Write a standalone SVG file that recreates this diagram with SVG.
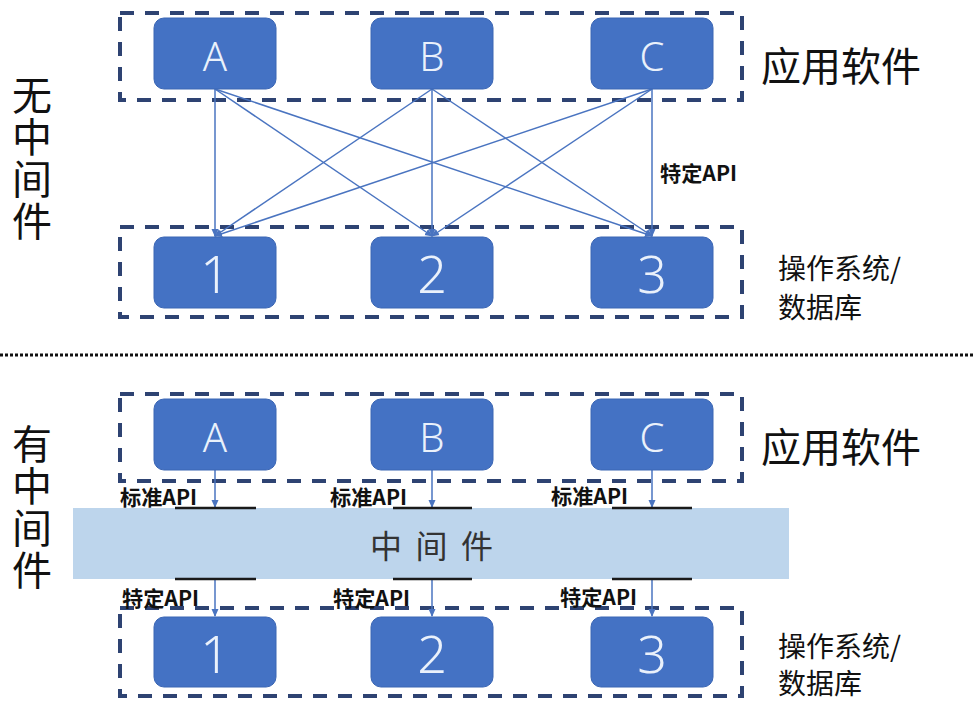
<svg xmlns="http://www.w3.org/2000/svg" width="974" height="702" viewBox="0 0 974 702">
<defs>
<style>
.grp{fill:none;stroke:#2E4372;stroke-width:4;stroke-dasharray:14 11}
.node{fill:#4472C4;stroke:#3B66B4;stroke-width:1}
.let{font-family:"Noto Sans","DejaVu Sans",sans-serif;font-weight:300;font-size:40px;fill:#EAF1FB;text-anchor:middle}
.num{font-family:"Noto Sans","DejaVu Sans",sans-serif;font-weight:300;font-size:52px;fill:#EAF1FB;text-anchor:middle}
.conn{stroke:#4A74C0;stroke-width:1.5;fill:none;marker-end:url(#arr)}
.big{font-family:"Noto Sans CJK SC","Noto Sans",sans-serif;font-size:40px;fill:#111}
.vert{font-family:"Noto Sans CJK SC","Noto Sans",sans-serif;font-size:40px;fill:#111;writing-mode:vertical-rl;letter-spacing:2px}
.mid{font-family:"Noto Sans CJK SC","Noto Sans",sans-serif;font-size:28px;fill:#111}
.api{font-family:"Noto Sans CJK SC","Noto Sans",sans-serif;font-size:21px;font-weight:bold;fill:#111}
.bar{stroke:#1a1a1a;stroke-width:2.5}
</style>
<marker id="arr" markerWidth="8" markerHeight="8" refX="7" refY="4" orient="auto" markerUnits="userSpaceOnUse">
<path d="M0,0.5 L8,4 L0,7.5 z" fill="#4A74C0"/>
</marker>
</defs>
<rect width="974" height="702" fill="#FFFFFF"/>

<!-- Top section -->
<rect class="grp" x="120" y="13" width="622" height="87"/>
<rect class="grp" x="120" y="227" width="622" height="90"/>

<g id="connectors-top">
<line class="conn" x1="215" y1="89" x2="215" y2="236"/>
<line class="conn" x1="215" y1="89" x2="432" y2="236"/>
<line class="conn" x1="215" y1="89" x2="652" y2="236"/>
<line class="conn" x1="432" y1="89" x2="215" y2="236"/>
<line class="conn" x1="432" y1="89" x2="432" y2="236"/>
<line class="conn" x1="432" y1="89" x2="652" y2="236"/>
<line class="conn" x1="652" y1="89" x2="215" y2="236"/>
<line class="conn" x1="652" y1="89" x2="432" y2="236"/>
<line class="conn" x1="652" y1="89" x2="652" y2="236"/>
<text class="api" x="660" y="181" textLength="77" lengthAdjust="spacingAndGlyphs">特定API</text>
</g>

<g id="top-A"><rect class="node" x="154" y="18" width="122" height="71" rx="10"/><text class="let" x="215" y="71">A</text></g>
<g id="top-B"><rect class="node" x="371" y="18" width="122" height="71" rx="10"/><text class="let" x="432" y="71">B</text></g>
<g id="top-C"><rect class="node" x="591" y="18" width="122" height="71" rx="10"/><text class="let" x="652" y="71">C</text></g>
<g id="top-1"><rect class="node" x="154" y="237" width="122" height="71" rx="10"/><text class="num" x="215" y="293">1</text></g>
<g id="top-2"><rect class="node" x="371" y="237" width="122" height="71" rx="10"/><text class="num" x="432" y="293">2</text></g>
<g id="top-3"><rect class="node" x="591" y="237" width="122" height="71" rx="10"/><text class="num" x="652" y="293">3</text></g>

<text class="vert" x="32" y="75">无中间件</text>
<text class="big" x="761" y="81">应用软件</text>
<text class="mid" x="778" y="279">操作系统/<tspan x="778" dy="39">数据库</tspan></text>

<!-- separator -->
<line x1="0" y1="355" x2="974" y2="355" stroke="#111" stroke-width="3" stroke-dasharray="3 2"/>

<!-- Bottom section -->
<rect class="grp" x="120" y="394" width="622" height="87"/>
<rect class="grp" x="120" y="608" width="622" height="88"/>

<g id="middleware">
<rect x="73" y="508" width="716" height="71" fill="#BDD5EC"/>
<text x="370" y="558" font-family="Noto Sans CJK SC, Noto Sans, sans-serif" font-size="32" fill="#333" textLength="123" lengthAdjust="spacing">中 间 件</text>
</g>

<g id="connectors-bottom">
<line class="conn" x1="215" y1="470" x2="215" y2="507"/>
<line class="conn" x1="432" y1="470" x2="432" y2="507"/>
<line class="conn" x1="652" y1="470" x2="652" y2="507"/>
<line class="conn" x1="215" y1="579" x2="215" y2="616"/>
<line class="conn" x1="432" y1="579" x2="432" y2="616"/>
<line class="conn" x1="652" y1="579" x2="652" y2="616"/>
<line class="bar" x1="175" y1="508" x2="256" y2="508"/>
<line class="bar" x1="393" y1="508" x2="472" y2="508"/>
<line class="bar" x1="612" y1="508" x2="692" y2="508"/>
<line class="bar" x1="175" y1="579" x2="256" y2="579"/>
<line class="bar" x1="393" y1="579" x2="472" y2="579"/>
<line class="bar" x1="612" y1="579" x2="692" y2="579"/>
<text class="api" x="120" y="505" textLength="77" lengthAdjust="spacingAndGlyphs">标准API</text>
<text class="api" x="330" y="505" textLength="77" lengthAdjust="spacingAndGlyphs">标准API</text>
<text class="api" x="551" y="504" textLength="77" lengthAdjust="spacingAndGlyphs">标准API</text>
<text class="api" x="122" y="606" textLength="77" lengthAdjust="spacingAndGlyphs">特定API</text>
<text class="api" x="333" y="606" textLength="77" lengthAdjust="spacingAndGlyphs">特定API</text>
<text class="api" x="560" y="605" textLength="77" lengthAdjust="spacingAndGlyphs">特定API</text>
</g>

<g id="bot-A"><rect class="node" x="154" y="399" width="122" height="71" rx="10"/><text class="let" x="215" y="452">A</text></g>
<g id="bot-B"><rect class="node" x="371" y="399" width="122" height="71" rx="10"/><text class="let" x="432" y="452">B</text></g>
<g id="bot-C"><rect class="node" x="591" y="399" width="122" height="71" rx="10"/><text class="let" x="652" y="452">C</text></g>
<g id="bot-1"><rect class="node" x="154" y="617" width="122" height="70" rx="10"/><text class="num" x="215" y="673">1</text></g>
<g id="bot-2"><rect class="node" x="371" y="617" width="122" height="70" rx="10"/><text class="num" x="432" y="673">2</text></g>
<g id="bot-3"><rect class="node" x="591" y="617" width="122" height="70" rx="10"/><text class="num" x="652" y="673">3</text></g>

<text class="vert" x="32" y="424">有中间件</text>
<text class="big" x="761" y="462">应用软件</text>
<text class="mid" x="778" y="657">操作系统/<tspan x="778" dy="37">数据库</tspan></text>
</svg>
